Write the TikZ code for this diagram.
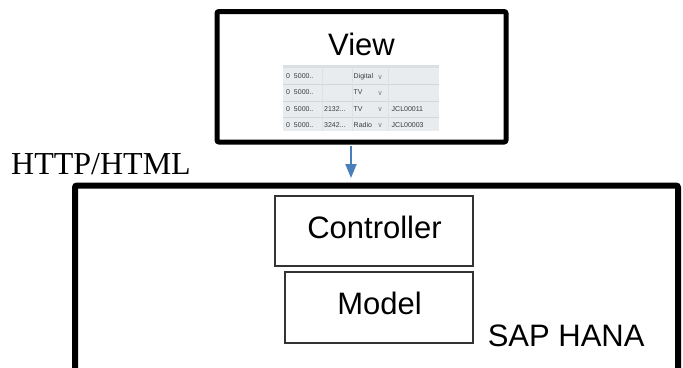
\documentclass[tikz,border=0pt]{standalone}
\usepackage{fontspec}
\setmainfont{Liberation Serif}
\newfontfamily\arialf{Liberation Sans}
\newfontfamily\dejavuf{DejaVu Sans}
\usetikzlibrary{arrows.meta}
\definecolor{arrowblue}{HTML}{4A7EBB}
\definecolor{tblbg}{HTML}{E9ECEF}
\definecolor{tblhead}{HTML}{DCDFE2}
\definecolor{tblline}{HTML}{D2D6DA}
\definecolor{tblvline}{HTML}{DDE1E4}
\definecolor{celltext}{HTML}{3A3A3A}
\tikzset{
  thickbox/.style={draw=black, line width=5pt, rounded corners=2pt, inner sep=0pt, outer sep=0pt},
  thinbox/.style={draw=black!80, line width=1.3pt, inner sep=0pt, outer sep=0pt},
  sanslabel/.style={font=\arialf\fontsize{31}{31}\selectfont, inner sep=0pt, anchor=base},
  cell/.style={font=\arialf\fontsize{7}{7}\selectfont, text=celltext, inner sep=0pt, anchor=west},
  chev/.style={font=\dejavuf\fontsize{7}{7}\selectfont, text=black!50, inner sep=0pt, anchor=west},
  flow/.style={draw=arrowblue, line width=2pt, -{Triangle[length=14pt,width=11pt]}}
}
\begin{document}
\begin{tikzpicture}[x=1pt,y=-1pt]
\useasboundingbox (0,0) rectangle (683,367);

% boxes
\node[thickbox, minimum width=289pt, minimum height=130.5pt] (view) at (361.5,76.75) {};
\node[thickbox, line width=6pt, minimum width=603pt, minimum height=260pt] (hana) at (376.5,315.5) {};
\node[thinbox, minimum width=198pt, minimum height=70pt] (ctrl) at (374,231) {};
\node[thinbox, minimum width=188pt, minimum height=71pt] (model) at (379,307.5) {};

% labels
\node[sanslabel] (viewt) at (361.5,55) {View};
\node[sanslabel] (ctrlt) at (374.5,238) {Controller};
\node[sanslabel] (modelt) at (379.5,314) {Model};
\node[sanslabel, anchor=base west] (hanat) at (487.6,346.7) {SAP HANA};
\node[font=\fontsize{32}{32}\selectfont, inner sep=0pt, anchor=base west] (http) at (11,174) {HTTP/HTML};

% arrow
\coordinate (ax) at (351,0);
\draw[flow, shorten <=4pt, shorten >=7.5pt] (view.south -| ax) -- (hana.north -| ax);

% table screenshot
\fill[tblbg] (283,65) rectangle (439,131);
\fill[tblhead] (283,65) rectangle (439,68);
\foreach \yy in {84,101,117} \draw[tblline, line width=0.8pt] (283,\yy) -- (439,\yy);
\foreach \xx in {322,352,388} \draw[tblvline, line width=0.6pt] (\xx,65) -- (\xx,131);

\node[cell] (c11) at (286,76.5) {0\ \ 5000..};
\node[cell] (c21) at (286,92.5) {0\ \ 5000..};
\node[cell] (c31) at (286,109) {0\ \ 5000..};
\node[cell] (c41) at (286,125) {0\ \ 5000..};
\node[cell] (c32) at (324,109) {2132...};
\node[cell] (c42) at (324,125) {3242...};
\node[cell] (c13) at (353.5,76.5) {Digital};
\node[cell] (c23) at (353.5,92.5) {TV};
\node[cell] (c33) at (353.5,109) {TV};
\node[cell] (c43) at (353.5,125) {Radio};
\node[chev] (v1) at (377.5,77) {∨};
\node[chev] (v2) at (377.5,93) {∨};
\node[chev] (v3) at (377.5,109.5) {∨};
\node[chev] (v4) at (377.5,125.5) {∨};
\node[cell] (c34) at (391.5,109) {JCL00011};
\node[cell] (c44) at (391.5,125) {JCL00003};
\end{tikzpicture}
\end{document}
